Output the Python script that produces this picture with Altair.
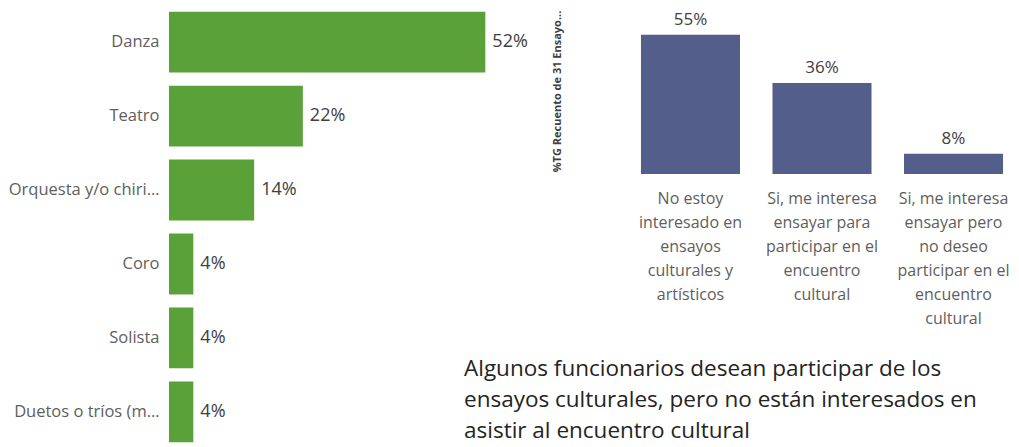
import altair as alt
import pandas as pd

# Left chart data
left_cats = ["Danza", "Teatro", "Orquesta y/o chiri…", "Coro", "Solista", "Duetos o tríos (m…"]
left_vals = [0.52, 0.22, 0.14, 0.04, 0.04, 0.04]

# Right chart data
right_cats = [
    "No estoy\ninteresado en\nensayos\nculturales y\nartísticos",
    "Si, me interesa\nensayar para\nparticipar en el\nencuentro\ncultural",
    "Si, me interesa\nensayar pero\nno deseo\nparticipar en el\nencuentro\ncultural",
]
right_vals = [0.55, 0.36, 0.08]
right_title = "%TG Recuento de 31 Ensayo..."

note_lines = [
    "Algunos funcionarios desean participar de los",
    "ensayos culturales, pero no están interesados en",
    "asistir al encuentro cultural",
]

FONT = "Segoe UI, Open Sans"
GREEN = "#5BA13A"
SLATE = "#545E8A"
AXIS_GREY = "#605E5C"
LABEL_GREY = "#404040"

left_df = pd.DataFrame({"cat": left_cats, "val": left_vals})
right_df = pd.DataFrame({"cat": right_cats, "val": right_vals})
note_df = pd.DataFrame({"k": [0]})

ly = alt.Y(
    "cat:N",
    sort=None,
    scale=alt.Scale(paddingInner=0.176, paddingOuter=0.05),
    axis=alt.Axis(
        title=None, ticks=False, domain=False, labelPadding=10,
        labelFont=FONT, labelFontSize=16.5, labelColor=AXIS_GREY, labelLimit=300,
    ),
)
lx = alt.X("val:Q", scale=alt.Scale(domain=[0, 0.6], nice=False), axis=None)

left_base = alt.Chart(left_df).encode(y=ly, x=lx)
left_bars = left_base.mark_bar(color=GREEN)
left_text = left_base.mark_text(
    align="left", baseline="middle", dx=7, font=FONT, fontSize=18, color=LABEL_GREY
).encode(text=alt.Text("val:Q", format=".0%"))

note = alt.Chart(note_df).mark_text(
    align="left", baseline="alphabetic", font=FONT, fontSize=22.5, lineHeight=31, color="#252423"
).encode(x=alt.value(295), y=alt.value(368), text=alt.value(note_lines))

left = alt.layer(left_bars, left_text, note).properties(width=365, height=438)

rx = alt.X(
    "cat:N",
    sort=None,
    scale=alt.Scale(paddingInner=0.247, paddingOuter=0.053),
    axis=alt.Axis(
        title=None, ticks=False, domain=False, labelAngle=0, labelPadding=16,
        labelFont=FONT, labelFontSize=16, labelColor=AXIS_GREY, labelLineHeight=24,
        labelExpr="split(datum.label, '\\n')", labelLimit=300,
    ),
)
ry = alt.Y(
    "val:Q",
    scale=alt.Scale(domain=[0, 0.656], nice=False),
    axis=alt.Axis(
        title=right_title, labels=False, ticks=False, domain=False, grid=False,
        titleFont=FONT, titleFontSize=11, titleFontWeight="bold", titleColor=LABEL_GREY,
        titlePadding=72,
    ),
)
right_base = alt.Chart(right_df).encode(x=rx, y=ry)
right_bars = right_base.mark_bar(color=SLATE)
right_text = right_base.mark_text(
    align="center", baseline="bottom", dy=-6, font=FONT, fontSize=17, color=LABEL_GREY
).encode(text=alt.Text("val:Q", format=".0%"))
right = alt.layer(right_bars, right_text).properties(width=376, height=166)

chart = alt.hconcat(left, right, spacing=100, bounds="flush").properties(
    padding=0
).configure_view(strokeWidth=0)

chart.save("out.html", embed_options={"renderer": "svg", "actions": False})
